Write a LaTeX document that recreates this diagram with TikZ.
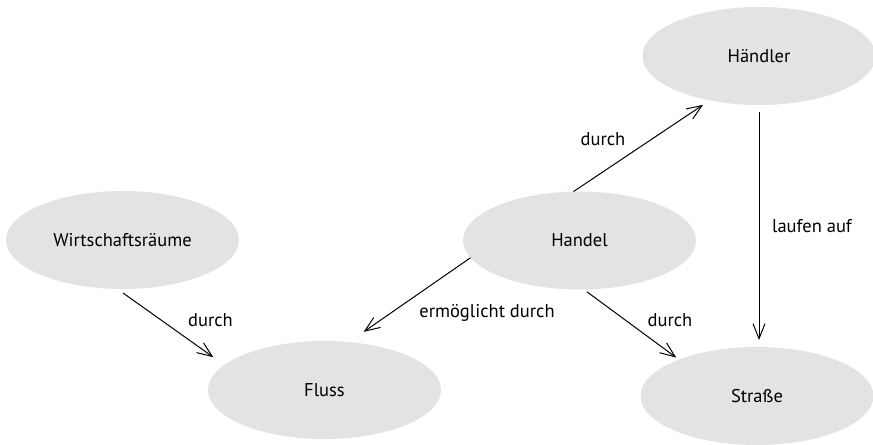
\documentclass[tikz,border=0pt]{standalone}
\usepackage{fontspec}
\setmainfont{PT Sans}
\usetikzlibrary{arrows.meta,shapes.geometric}
\definecolor{bubble}{RGB}{227,227,227}
\tikzset{
  txt/.style={font=\fontsize{18.5bp}{22bp}\selectfont},
  concept/.style={ellipse, fill=bubble, minimum width=233bp, minimum height=98bp,
    inner sep=0pt, outer sep=0pt, txt},
  rel/.style={inner sep=0pt, txt},
  link/.style={line width=1bp, -{Straight Barb[length=15bp,width=12bp]}}
}
\begin{document}
\begin{tikzpicture}[x=1bp,y=-1bp]
  \useasboundingbox (0,0) rectangle (873,445);

  % concepts
  \node[concept] (wr) at (122.5,240) {Wirtschaftsräume};
  \node[concept] (ha) at (579.5,240.5) {Handel};
  \node[concept] (hd) at (759,56) {Händler};
  \node[concept] (fl) at (324.5,390) {Fluss};
  \node[concept] (st) at (757,396) {Straße};

  % relations
  \draw[link, shorten <=7bp, shorten >=13.5bp] (wr.-96) -- (fl.166.7);
  \draw[link, shorten >=8bp] (ha.97.5) -- (hd.-138);
  \draw[link, shorten >=18bp] (ha.189.8) -- (fl.63.9);
  \draw[link, shorten <=4bp, shorten >=3.4bp] (ha.-85.5) -- (st.155.6);
  \draw[link, shorten <=7bp, shorten >=7bp] (hd.south) -- (hd.south |- st.north);

  % relation labels
  \node[rel] (l1) at (210.5,320) {durch};
  \node[rel] (l2) at (603,139) {durch};
  \node[rel] (l3) at (487,313) {ermöglicht durch};
  \node[rel] (l4) at (670,320) {durch};
  \node[rel] (l5) at (812,226) {laufen auf};
\end{tikzpicture}
\end{document}
